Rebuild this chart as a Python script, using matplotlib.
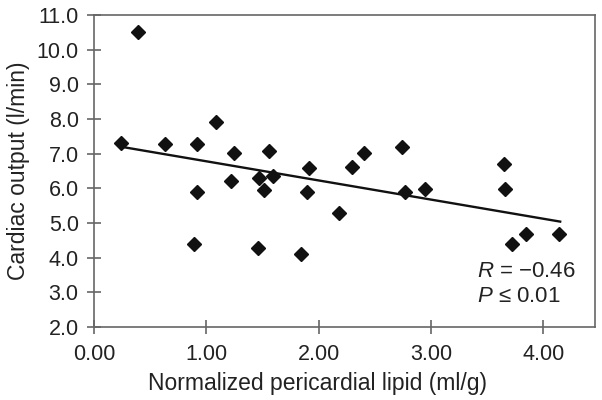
import matplotlib.pyplot as plt

plt.rcParams['font.family'] = ['Liberation Sans', 'DejaVu Sans']
plt.rcParams['mathtext.fontset'] = 'custom'
plt.rcParams['mathtext.it'] = 'Liberation Sans:italic'
plt.rcParams['mathtext.rm'] = 'Liberation Sans'

# Normalized pericardial lipid (ml/g) vs cardiac output (l/min)
lipid = [0.24, 0.39, 0.63, 0.89, 0.92, 0.92, 1.09, 1.22, 1.25, 1.46,
         1.47, 1.51, 1.56, 1.59, 1.84, 1.90, 1.91, 2.18, 2.30, 2.40,
         2.74, 2.77, 2.95, 3.65, 3.66, 3.72, 3.85, 4.14]
output = [7.30, 10.51, 7.28, 4.40, 7.28, 5.88, 7.90, 6.20, 7.01, 4.27,
          6.29, 5.96, 7.09, 6.37, 4.10, 5.88, 6.60, 5.29, 6.61, 7.02,
          7.20, 5.89, 5.98, 6.71, 5.98, 4.40, 4.68, 4.68]

# regression line end points
trend_x = [0.24, 4.15]
trend_y = [7.20, 5.04]

x_ticks = [0, 1, 2, 3, 4]
y_ticks = [2, 3, 4, 5, 6, 7, 8, 9, 10, 11]

fig = plt.figure(figsize=(6.02, 4.00), dpi=100)
ax = fig.add_axes([94 / 602, 1 - 327 / 400, 501 / 602, 312 / 400])

ax.plot(trend_x, trend_y, color='#111111', lw=1.7)
ax.plot(lipid, output, 'D', color='#111111', ms=7, mec='#111111')

ax.set_xlim(0, 4.46)
ax.set_ylim(2, 11)
ax.set_xticks(x_ticks)
ax.set_xticklabels(['%.2f' % v for v in x_ticks])
ax.set_yticks(y_ticks)
ax.set_yticklabels(['%.1f' % v for v in y_ticks])

for s in ax.spines.values():
    s.set_color('#666666')
    s.set_linewidth(1.2)
ax.tick_params(direction='inout', length=10, width=1.2, color='#666666',
               labelsize=15.5, labelcolor='#222222')
ax.tick_params(axis='x', pad=7)
ax.tick_params(axis='y', pad=6)

ax.set_xlabel('Normalized pericardial lipid (ml/g)', fontsize=16.5, color='#222222',
              labelpad=5, x=0.447)
ax.set_ylabel('Cardiac output (l/min)', fontsize=16.5, color='#222222', labelpad=5)

ax.text(3.41, 3.59, '$R$ = −0.46', fontsize=16, color='#222222', ha='left', va='center')
ax.text(3.41, 2.87, '$P$ ≤ 0.01', fontsize=16, color='#222222', ha='left', va='center')

fig.savefig('out.png', dpi=100)
